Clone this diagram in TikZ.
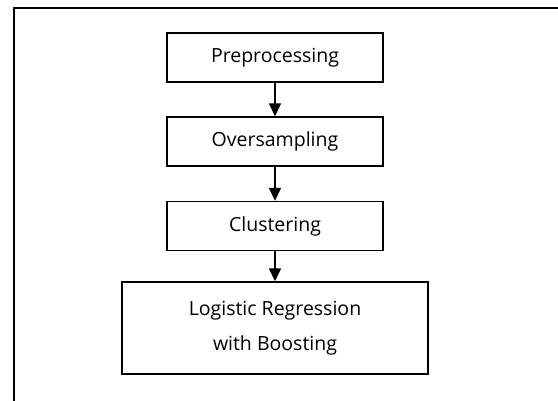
\documentclass[tikz,border=0pt]{standalone}
\usepackage{fontspec}
\setmainfont{Open Sans}
\usetikzlibrary{arrows.meta}
\tikzset{stage/.style={draw,line width=1.4pt,minimum width=216pt,minimum height=49pt,inner sep=0pt,align=center,font=\fontsize{19.5}{35}\selectfont},
    flow/.style={-{Triangle[length=13pt,width=12pt]},line width=1.5pt}}
\begin{document}
\begin{tikzpicture}[x=1pt,y=-1pt]
                \useasboundingbox (0,0) rectangle (558,401);
                
                % Frame
                \draw[line width=2.2pt] (14,401) -- (14,8) -- (558,8);
                
                % Stages
                \node[stage] (pre) at (275,57.5) {Preprocessing};
                \node[stage] (over) at (275,141.5) {Oversampling};
                \node[stage] (clu) at (275,226) {Clustering};
                \node[stage,minimum width=306pt,minimum height=92pt] (lr) at (275,328) {Logistic Regression\\with Boosting};
                
                % Arrows
                \draw[flow] (pre) -- (over);
                \draw[flow] (over) -- (clu);
                \draw[flow] (clu) -- (lr);
            \end{tikzpicture}
\end{document}
